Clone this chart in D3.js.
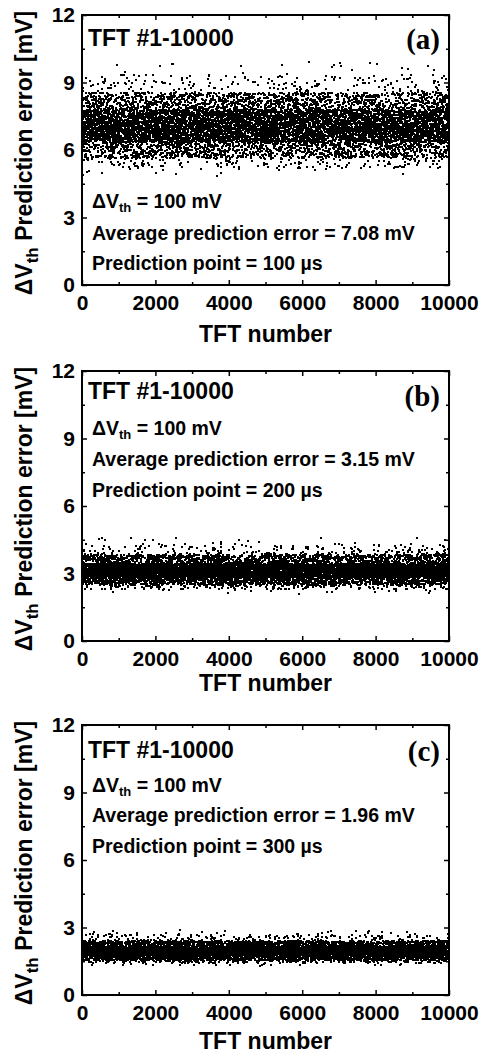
<!DOCTYPE html>
<html>
<head>
<meta charset="utf-8">
<script src="https://cdn.jsdelivr.net/npm/d3@7"></script>
<style>
  html, body { margin: 0; padding: 0; background: #fff; }
  svg { display: block; }
  text { font-family: "Liberation Sans", Arial, sans-serif; font-weight: bold; fill: #000; }
</style>
</head>
<body>
<div id="chart"></div>
<script>
// panel data
const panelTags = ["(a)", "(b)", "(c)"];
const avgErrors = [7.08, 3.15, 1.96];          // mV, printed in each panel
const predPoints = [100, 200, 300];            // µs
const deltaVth = 100;                          // mV
const tftCount = 10000;

// spread of the error cloud (value at each cumulative fraction)
const quantileLevels = [0, 0.002, 0.02, 0.16, 0.5, 0.84, 0.98, 0.998, 1];
const quantilesA = [4.85, 5.2, 5.65, 6.35, 7.05, 7.8, 8.55, 9.35, 9.9];
const quantilesB = [2.1, 2.3, 2.5, 2.82, 3.12, 3.43, 3.85, 4.3, 4.6];
const quantilesC = [1.3, 1.42, 1.55, 1.76, 1.95, 2.14, 2.4, 2.7, 2.9];
const panelQuantiles = [quantilesA, quantilesB, quantilesC];

const xTicks = [0, 2000, 4000, 6000, 8000, 10000];
const xMinor = [1000, 3000, 5000, 7000, 9000];
const yTicks = [0, 3, 6, 9, 12];
const yMinor = [1.5, 4.5, 7.5, 10.5];

const width = 481, height = 1059;
const left = 82, plotW = 367, plotH = 270;
const tops = [15, 371, 725];
// per panel text offsets (from plot top) : title, dVth, average, point
const textOffsets = [[31, 193, 225, 255], [28, 64, 95, 126], [33, 67, 97, 128]];
const xTitleOffsets = [57, 50, 54];

const svg = d3.select("#chart").append("svg")
    .attr("width", width)
    .attr("height", height);

const x = d3.scaleLinear().domain([0, 10000]).range([0, plotW]);
const y = d3.scaleLinear().domain([0, 12]).range([plotH, 0]);

// fixed scramble of the TFT index -> position inside the read spread
// (the single dots can not be read off the picture)
function scramble(i, p) {
    const s = Math.sin(i * 12.9898 + p * 78.233) * 43758.5453;
    return s - Math.floor(s);
}

panelTags.forEach((tag, p) => {
    const g = svg.append("g").attr("transform", `translate(${left},${tops[p]})`);

    const toValue = d3.scaleLinear().domain(quantileLevels).range(panelQuantiles[p]);
    const pts = d3.range(1, tftCount + 1).map(i => [i, toValue(scramble(i, p))]);
    const dot = 2;
    g.append("path")
        .attr("fill", "#000")
        .attr("shape-rendering", "crispEdges")
        .attr("d", pts.map(d => `M${Math.round(x(d[0]) - 1)},${Math.round(y(d[1]) - 1)}h${dot}v${dot}h${-dot}z`).join(""));

    // frame
    g.append("rect")
        .attr("width", plotW).attr("height", plotH)
        .attr("fill", "none").attr("stroke", "#000").attr("stroke-width", 2);

    // axes, ticks inward on all sides
    const fmt = d3.format("d");
    g.append("g").attr("transform", `translate(0,${plotH})`)
        .call(d3.axisBottom(x).tickValues(xTicks).tickFormat(fmt).tickSize(-5).tickPadding(10));
    g.append("g").attr("transform", `translate(0,${plotH})`)
        .call(d3.axisBottom(x).tickValues(xMinor).tickFormat("").tickSize(-3));
    g.append("g")
        .call(d3.axisTop(x).tickValues(xTicks).tickFormat("").tickSize(-5));
    g.append("g")
        .call(d3.axisTop(x).tickValues(xMinor).tickFormat("").tickSize(-3));
    g.append("g")
        .call(d3.axisLeft(y).tickValues(yTicks).tickFormat(fmt).tickSize(-5).tickPadding(7));
    g.append("g")
        .call(d3.axisLeft(y).tickValues(yMinor).tickFormat("").tickSize(-3));
    g.append("g").attr("transform", `translate(${plotW},0)`)
        .call(d3.axisRight(y).tickValues(yTicks).tickFormat("").tickSize(-5));
    g.append("g").attr("transform", `translate(${plotW},0)`)
        .call(d3.axisRight(y).tickValues(yMinor).tickFormat("").tickSize(-3));

    g.selectAll(".domain").remove();
    g.selectAll(".tick line").attr("stroke", "#000").attr("stroke-width", 1.5);
    g.selectAll(".tick text")
        .style("font-family", "'Liberation Sans', Arial, sans-serif")
        .style("font-weight", "bold")
        .style("font-size", "21px")
        .attr("fill", "#000");

    // axis titles
    g.append("text")
        .attr("x", plotW / 2).attr("y", plotH + xTitleOffsets[p])
        .attr("text-anchor", "middle")
        .style("font-size", "23px")
        .text("TFT number");

    const yt = g.append("text")
        .attr("transform", `translate(${32 - left},${plotH / 2 + 3}) rotate(-90)`)
        .attr("text-anchor", "middle")
        .style("font-size", "23px");
    yt.append("tspan").text("\u0394V");
    yt.append("tspan").attr("dy", 6).style("font-size", "17px").text("th");
    yt.append("tspan").attr("dy", -6).text(" Prediction error [mV]");

    // annotations
    const off = textOffsets[p];
    g.append("text").attr("x", 6).attr("y", off[0])
        .style("font-size", "23px").text("TFT #1-10000");
    const dv = g.append("text").attr("x", 10).attr("y", off[1]).style("font-size", "19.5px");
    dv.append("tspan").text("\u0394V");
    dv.append("tspan").attr("dy", 4).style("font-size", "13px").text("th");
    dv.append("tspan").attr("dy", -4).text(` = ${deltaVth} mV`);
    g.append("text").attr("x", 10).attr("y", off[2])
        .style("font-size", "19.5px")
        .text(`Average prediction error = ${avgErrors[p].toFixed(2)} mV`);
    g.append("text").attr("x", 10).attr("y", off[3])
        .style("font-size", "19.5px")
        .text(`Prediction point = ${predPoints[p]} \u00b5s`);

    g.append("text")
        .attr("x", plotW - 9).attr("y", 34 + p)
        .attr("text-anchor", "end")
        .style("font-family", "'Liberation Serif', 'Times New Roman', serif")
        .style("font-size", "29px")
        .text(tag);
});
</script>
</body>
</html>
